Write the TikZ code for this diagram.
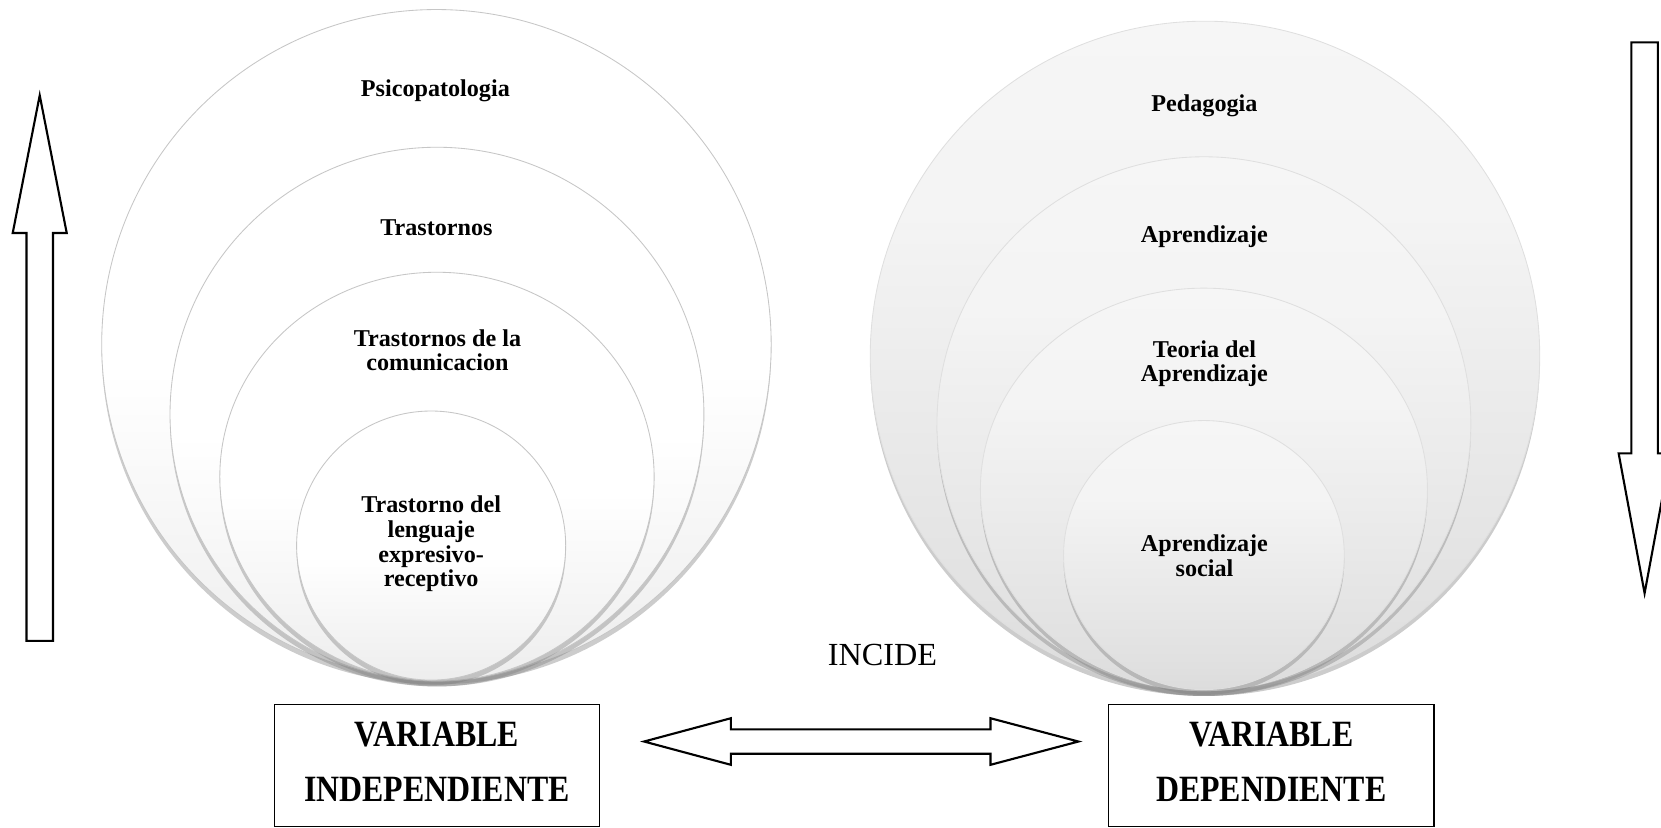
\documentclass[tikz,border=0pt]{standalone}
\usepackage{fontspec}
\setmainfont{Liberation Serif}
\usepackage{graphicx}
\usetikzlibrary{shadows}
\newcommand{\cnd}[1]{\scalebox{0.86}[1]{#1}}
\pgfdeclareverticalshading{lshade}{100bp}{color(0bp)=(gray!40); color(25bp)=(gray!14); color(48bp)=(white); color(100bp)=(white)}
\pgfdeclareverticalshading{rshade}{100bp}{color(0bp)=(gray!45); color(30bp)=(gray!24); color(60bp)=(gray!9); color(100bp)=(gray!4)}
\tikzset{
  lcirc/.style={draw=gray!45, line width=0.4pt, shade, shading=lshade,
    drop shadow={shadow xshift=0pt, shadow yshift=-2.5pt, opacity=0.4}},
  rcirc/.style={draw=gray!25, line width=0.4pt, shade, shading=rshade,
    drop shadow={shadow xshift=0pt, shadow yshift=-2.5pt, opacity=0.4}},
  lbl/.style={font=\fontsize{11.4}{11.6}\selectfont\bfseries, align=center, inner sep=0pt},
  vbox/.style={draw, line width=0.7pt, minimum width=153.5pt, minimum height=57.5pt, inner sep=0pt},
  vtxt/.style={font=\fontsize{17.5}{26}\selectfont\bfseries, align=center, inner sep=0pt},
  blockarrow/.style={draw, line width=1pt, fill=white, line join=miter},
}
\begin{document}
\begin{tikzpicture}[x=0.5pt, y=-0.5pt]
\useasboundingbox (0,0) rectangle (1568,781);

% left nested circles
\path[lcirc] (412,325) circle [radius=316];
\path[lcirc] (412.5,391) circle [radius=252];
\path[lcirc] (412.5,450) ellipse [x radius=205, y radius=193];
\path[lcirc] (407,515) circle [radius=127];

% right nested circles
\path[rcirc] (1137.5,336) circle [radius=316];
\path[rcirc] (1136.5,400) circle [radius=252];
\path[rcirc] (1136.5,462) ellipse [x radius=211, y radius=190];
\path[rcirc] (1136.5,524) ellipse [x radius=132.5, y radius=127];

% left labels
\node[lbl] (psico) at (411,86) {Psicopatologia};
\node[lbl] (trast) at (412,215) {Trastornos};
\node[lbl] (tcom) at (413,330.5) {Trastornos de la\\comunicacion};
\node[lbl] (tleng) at (407,513.5) {Trastorno del\\lenguaje\\expresivo-\\receptivo};

% right labels
\node[lbl] (ped) at (1137,100) {Pedagogia};
\node[lbl] (apr) at (1137,223) {Aprendizaje};
\node[lbl] (teo) at (1137,343.5) {Teoria del\\Aprendizaje};
\node[lbl] (soc) at (1137,524.5) {Aprendizaje\\social};

% boxes
\node[vbox] (vi) at (412.5,722.5) {};
\node[vtxt] (vit) at (412.5,719) {\cnd{VARIABLE}\\\cnd{INDEPENDIENTE}};
\node[vbox] (vd) at (1200,722.5) {};
\node[vtxt] (vdt) at (1200,719) {\cnd{VARIABLE}\\\cnd{DEPENDIENTE}};

% INCIDE
\node[font=\fontsize{15.2}{17}\selectfont, inner sep=0pt] (inc) at (833,618) {INCIDE};

% double arrow between the boxes
\path[blockarrow] (608,700) -- (690,678) -- (690,688.5) -- (935,688.5) -- (935,678)
  -- (1018,700) -- (935,722) -- (935,711.5) -- (690,711.5) -- (690,722) -- cycle;

% left up arrow
\path[blockarrow] (25,605) -- (25,220) -- (12,220) -- (37.5,90) -- (63,220) -- (50,220)
  -- (50,605) -- cycle;

% right down arrow
\path[blockarrow] (1540,40) -- (1565,40) -- (1565,428) -- (1577,428) -- (1552.5,560)
  -- (1528,428) -- (1540,428) -- cycle;
\end{tikzpicture}
\end{document}
